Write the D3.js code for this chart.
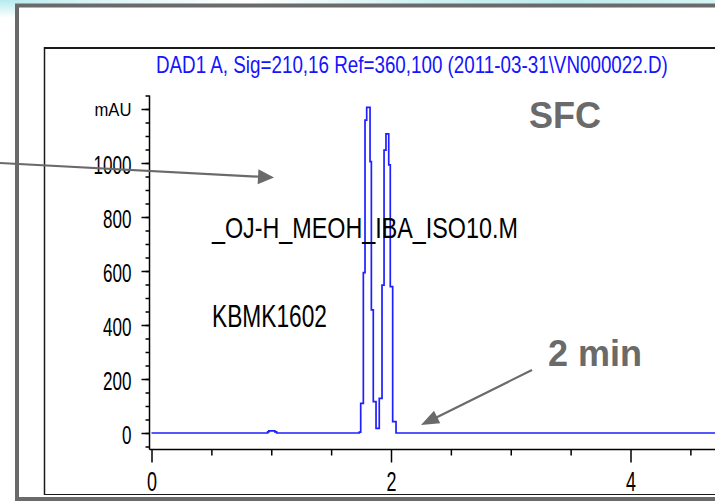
<!DOCTYPE html>
<html>
<head>
<meta charset="utf-8">
<script src="https://cdn.jsdelivr.net/npm/d3@7"></script>
<style>
  html, body { margin: 0; padding: 0; background: #ffffff; }
  svg { display: block; }
</style>
</head>
<body>
<svg id="chart" width="715" height="501"></svg>
<script>
// Chromatogram trace: retention time (min) and detector response (mAU)
const timeMin = [0, 0.97, 0.98, 1.03, 1.045, 1.735, 1.747, 1.769, 1.783, 1.797, 1.825, 1.836, 1.852, 1.875,
                 1.902, 1.925, 1.942, 1.958, 1.981, 1.994, 2.014, 2.042, 4.8];
const signalMAU = [0, 4, 8, 4, 0, 3, 110, 594, 1159, 1206, 1005, 456, 116, 17,
                   128, 548, 1048, 1108, 993, 542, 42, 0, 0];

// Axis ticks
const yMajorTicks = [0, 200, 400, 600, 800, 1000, 1200];
const yMinorTicks = d3.range(-50, 1251, 50);
const xMajorTicks = [0, 2, 4];
const xMinorTicks = [0.5, 1, 1.5, 2.5, 3, 3.5, 4.5];

// Text
const titleText = "DAD1 A, Sig=210,16 Ref=360,100  (2011-03-31\\VN000022.D)";
const methodText = "_OJ-H_MEOH_IBA_ISO10.M";
const sampleText = "KBMK1602";
const modeText = "SFC";
const runTimeText = "2 min";
const yUnitText = "mAU";

const svg = d3.select("#chart");
const grey = "#6a6a6a";
const plain = "'Liberation Sans', Arial, sans-serif";

// Squeeze a text horizontally to a given width, keeping its anchor point fixed
function condense(sel, px, py, width) {
  sel.each(function () {
    const w = this.getComputedTextLength();
    d3.select(this).attr("x", 0).attr("y", 0)
      .attr("transform", `translate(${px},${py}) scale(${width / w},1)`);
  });
}

// Slide backdrop strip
const defs = svg.append("defs");
const g1 = defs.append("linearGradient").attr("id", "band").attr("x1", 0).attr("x2", 1).attr("y1", 0).attr("y2", 0);
[[0, "#b6ebee"], [0.15, "#dff6f7"], [0.35, "#ffffff"], [0.6, "#cdf1f2"], [0.8, "#bdeced"], [1, "#d6f4f4"]]
  .forEach(([o, c]) => g1.append("stop").attr("offset", o).attr("stop-color", c));
const g2 = defs.append("linearGradient").attr("id", "side").attr("x1", 0).attr("x2", 0).attr("y1", 0).attr("y2", 1);
[[0, "#b6ebee"], [1, "#ffffff"]].forEach(([o, c]) => g2.append("stop").attr("offset", o).attr("stop-color", c));
svg.append("rect").attr("x", 0).attr("y", 0).attr("width", 715).attr("height", 6).attr("fill", "url(#band)");
svg.append("rect").attr("x", 0).attr("y", 0).attr("width", 17).attr("height", 18).attr("fill", "url(#side)");

// Slide frame
svg.append("rect").attr("x", 17).attr("y", 5.5).attr("width", 720).attr("height", 493.5)
  .attr("fill", "#ffffff").attr("stroke", grey).attr("stroke-width", 4);

// Instrument plot frame
svg.append("line").attr("x1", 44).attr("x2", 715).attr("y1", 48).attr("y2", 48)
  .attr("stroke", "#1a1a1a").attr("stroke-width", 2);
svg.append("line").attr("x1", 44.5).attr("x2", 44.5).attr("y1", 47).attr("y2", 495)
  .attr("stroke", "#1a1a1a").attr("stroke-width", 1.5);
svg.append("line").attr("x1", 44).attr("x2", 715).attr("y1", 494.5).attr("y2", 494.5)
  .attr("stroke", "#1a1a1a").attr("stroke-width", 1);

// Scales
const x = d3.scaleLinear().domain([0, 4]).range([151.5, 630.5]);
const y = d3.scaleLinear().domain([0, 1000]).range([433, 163]);
const axisX = 149.5, axisY = 449.5;

// Title
svg.append("text").text(titleText)
  .attr("font-family", plain).attr("font-size", 23).attr("fill", "#1414ff")
  .call(condense, 156, 73, 512);

// Y axis
const yAxisG = svg.append("g").attr("transform", `translate(${axisX},0)`);
yAxisG.append("line").attr("x1", 0).attr("x2", 0).attr("y1", y(1250)).attr("y2", axisY)
  .attr("stroke", "#000").attr("stroke-width", 1.5);
const yMinor = yAxisG.append("g").call(d3.axisLeft(y).tickValues(yMinorTicks).tickSize(4).tickSizeOuter(0).tickFormat(""));
yMinor.select(".domain").remove();
const yMajor = yAxisG.append("g").call(d3.axisLeft(y).tickValues(yMajorTicks).tickSize(8).tickSizeOuter(0)
  .tickFormat(d => d === 1200 ? yUnitText : d));
yMajor.select(".domain").remove();
yAxisG.selectAll(".tick line").attr("stroke", "#000").attr("stroke-width", 1.5);
yMajor.selectAll("text")
  .attr("font-family", plain).attr("fill", "#000").attr("dy", null)
  .attr("font-size", d => d === 1200 ? 18 : 26)
  .each(function (d) {
    const isUnit = d === 1200;
    d3.select(this).call(condense, -18, isUnit ? 6 : 10.5, isUnit ? 37 : String(d).length * 9.5);
  });

// X axis
const xAxisG = svg.append("g").attr("transform", `translate(0,${axisY})`);
xAxisG.append("line").attr("x1", axisX).attr("x2", 715).attr("y1", 0).attr("y2", 0)
  .attr("stroke", "#000").attr("stroke-width", 1.5);
const xMinor = xAxisG.append("g").call(d3.axisBottom(x).tickValues(xMinorTicks).tickSize(6).tickSizeOuter(0).tickFormat(""));
xMinor.select(".domain").remove();
const xMajor = xAxisG.append("g").call(d3.axisBottom(x).tickValues(xMajorTicks).tickSize(13).tickSizeOuter(0).tickFormat(d3.format("d")));
xMajor.select(".domain").remove();
xAxisG.selectAll(".tick line").attr("stroke", "#000").attr("stroke-width", 1.5);
xMajor.selectAll("text")
  .attr("font-family", plain).attr("font-size", 27).attr("fill", "#000").attr("dy", null)
  .call(condense, 0, 41, 10);

// Signal trace
defs.append("clipPath").attr("id", "plotClip").append("rect")
  .attr("x", axisX).attr("y", 50).attr("width", 715 - axisX).attr("height", 400);
const trace = timeMin.map((t, i) => ({ t, v: signalMAU[i] }));
svg.append("path").datum(trace)
  .attr("clip-path", "url(#plotClip)")
  .attr("fill", "none").attr("stroke", "#1f1fff").attr("stroke-width", 1.7)
  .attr("d", d3.line().x(d => x(d.t)).y(d => y(d.v)).curve(d3.curveStepAfter));

// Method and sample labels
svg.append("text").text(methodText)
  .attr("font-family", plain).attr("font-size", 30).attr("fill", "#000")
  .call(condense, 212, 238, 306);
svg.append("text").text(sampleText)
  .attr("font-family", plain).attr("font-size", 31).attr("fill", "#000")
  .call(condense, 212, 327, 115);

// Slide annotations
svg.append("text").attr("x", 529).attr("y", 128).text(modeText)
  .attr("font-family", plain).attr("font-weight", "bold")
  .attr("font-size", 36).attr("fill", grey);
svg.append("text").attr("x", 548).attr("y", 366).text(runTimeText)
  .attr("font-family", plain).attr("font-weight", "bold")
  .attr("font-size", 36).attr("fill", grey);

function arrow(x1, y1, x2, y2, headLen, headHalf) {
  const dx = x2 - x1, dy = y2 - y1, len = Math.hypot(dx, dy);
  const ux = dx / len, uy = dy / len;
  const bx = x2 - ux * headLen, by = y2 - uy * headLen;
  svg.append("line").attr("x1", x1).attr("y1", y1).attr("x2", bx + ux * 2).attr("y2", by + uy * 2)
    .attr("stroke", grey).attr("stroke-width", 2.2);
  svg.append("path")
    .attr("d", `M${x2},${y2}L${bx - uy * headHalf},${by + ux * headHalf}L${bx + uy * headHalf},${by - ux * headHalf}Z`)
    .attr("fill", grey);
}
arrow(0, 163, 274, 177.5, 16, 7.5);
arrow(532, 370, 421, 425, 18, 7);
</script>
</body>
</html>
